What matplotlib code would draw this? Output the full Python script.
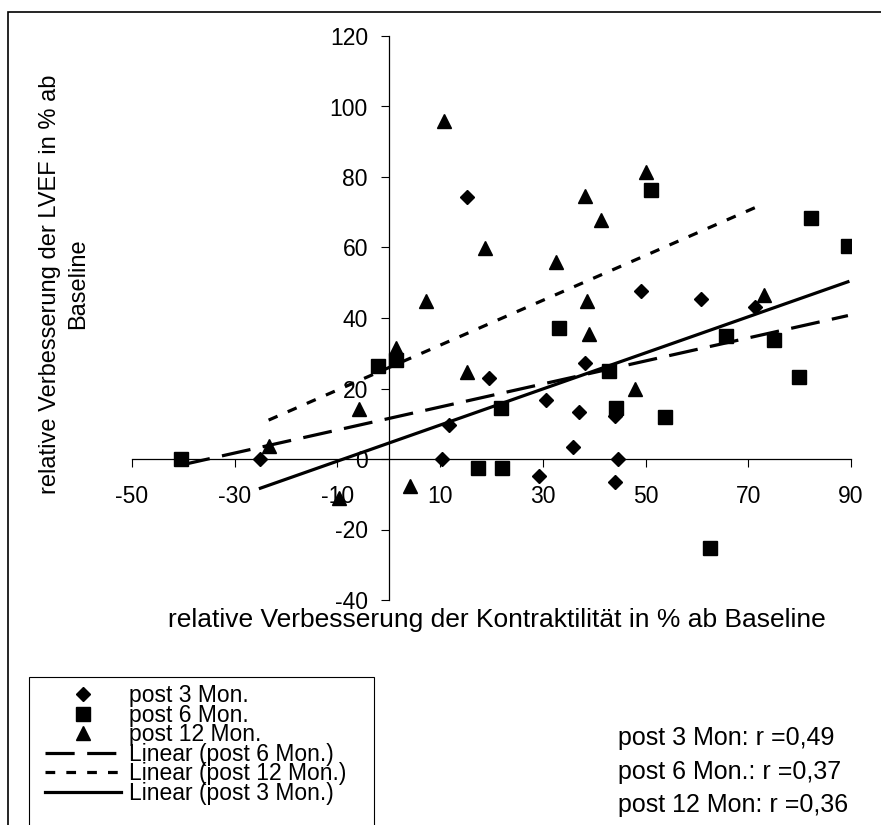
import numpy as np
import matplotlib
matplotlib.use("Agg")
import matplotlib.pyplot as plt
from matplotlib.patches import Rectangle

plt.rcParams['font.family'] = ['Liberation Sans', 'DejaVu Sans']
plt.rcParams['lines.scale_dashes'] = False
plt.rcParams['axes.unicode_minus'] = False

# ---- data ----
x_3mon = [-25.0, 10.4, 11.7, 19.6, 15.3, 49.1, 60.7, 71.4, 38.2, 30.6, 37.0, 44.0, 35.8, 44.6, 29.3, 44.1, 89.4, 82.3]
y_3mon = [0.0, 0.0, 9.7, 23.0, 74.3, 47.8, 45.5, 43.1, 27.2, 16.6, 13.2, 12.3, 3.4, 0.0, -4.7, -6.4, 60.3, 68.4]

x_6mon = [-40.4, -2.1, 1.5, 21.8, 17.3, 22.1, 42.8, 44.3, 53.8, 79.8, 62.5, 33.1, 65.7, 75.1, 51.1, 82.3, 89.4]
y_6mon = [0.0, 26.3, 28.0, 14.5, -2.6, -2.6, 25.0, 14.6, 11.8, 23.3, -25.2, 37.2, 34.8, 33.8, 76.4, 68.4, 60.3]

x_12mon = [10.8, 18.8, 7.3, 1.4, 50.0, 38.2, 41.4, 32.6, 38.6, 39.0, 73.0, 15.3, -5.8, -23.4, -9.7, 4.2, 48.0]
y_12mon = [96.0, 59.9, 44.7, 31.5, 81.3, 74.5, 67.9, 55.8, 44.9, 35.5, 46.6, 24.6, 14.2, 3.8, -11.1, -7.6, 19.9]

x_ticks = [-50, -30, -10, 10, 30, 50, 70, 90]
y_ticks = [-40, -20, 0, 20, 40, 60, 80, 100, 120]

series_labels = ["post 3 Mon.", "post 6 Mon.", "post 12 Mon."]
trend_labels = ["Linear (post 6 Mon.)", "Linear (post 12 Mon.)", "Linear (post 3 Mon.)"]
r_texts = ["post 3 Mon: r =0,49", "post 6 Mon.: r =0,37", "post 12 Mon: r =0,36"]

xlabel = "relative Verbesserung der Kontraktilität in % ab Baseline"
ylabel = "relative Verbesserung der LVEF in % ab\nBaseline"

# ---- figure ----
W, H = 881, 825
fig = plt.figure(figsize=(W / 100, H / 100), dpi=100)
ax = fig.add_axes([132 / W, 1 - 600 / H, (851 - 132) / W, (600 - 36) / H])
ax.set_xlim(-50, 90)
ax.set_ylim(-40, 120)

ax.spines['left'].set_position(('data', 0))
ax.spines['bottom'].set_position(('data', 0))
ax.spines['top'].set_visible(False)
ax.spines['right'].set_visible(False)
for s in ('left', 'bottom'):
    ax.spines[s].set_linewidth(0.9)
    ax.spines[s].set_color('black')

ax.set_xticks(x_ticks)
ax.set_yticks(y_ticks)
ax.tick_params(axis='both', direction='out', length=6, width=0.8, colors='black', labelsize=16.5)
ax.tick_params(axis='x', pad=13)
ax.tick_params(axis='y', pad=9)

k = 'black'
h3, = ax.plot(x_3mon, y_3mon, linestyle='none', marker='D', ms=6.8, color=k, zorder=3)
h6, = ax.plot(x_6mon, y_6mon, linestyle='none', marker='s', ms=9.5, color=k, zorder=3)
h12, = ax.plot(x_12mon, y_12mon, linestyle='none', marker='^', ms=10.0, color=k, zorder=3)

def trend(xs, ys):
    xs = np.asarray(xs); ys = np.asarray(ys)
    b, a = np.polyfit(xs, ys, 1)
    xx = np.array([xs.min(), xs.max()])
    return xx, a + b * xx

lw = 2.3
xx, yy = trend(x_6mon, y_6mon)
t6, = ax.plot(xx, yy, color=k, lw=lw, dashes=(21, 9), zorder=4)
xx, yy = trend(x_12mon, y_12mon)
t12, = ax.plot(xx, yy, color=k, lw=lw, dashes=(7, 8), zorder=4)
xx, yy = trend(x_3mon, y_3mon)
t3, = ax.plot(xx, yy, color=k, lw=lw, zorder=4)

# axis labels
fig.text(497 / W, 1 - 620 / H, xlabel, ha='center', va='center', fontsize=19)
fig.text(64 / W, 1 - 284 / H, ylabel, ha='center', va='center', rotation=90,
         multialignment='center', fontsize=17, linespacing=1.35)

# legend
leg = fig.legend([h3, h6, h12, t6, t12, t3], series_labels + trend_labels,
                 loc='upper left', bbox_to_anchor=(45 / W, 1 - 684 / H),
                 frameon=False, fontsize=16.5, handlelength=3.3, handletextpad=0.35,
                 labelspacing=-0.15, borderpad=0, borderaxespad=0, numpoints=1)
fig.add_artist(Rectangle((29 / W, -0.1), (374 - 29) / W, 0.1 + 1 - 677 / H,
                         transform=fig.transFigure, fill=False, edgecolor='black', lw=0.8))

# r values
for i, t in enumerate(r_texts):
    fig.text(618 / W, 1 - (738 + 33.5 * i) / H, t, ha='left', va='center', fontsize=18)

# outer frame
fig.add_artist(Rectangle((8 / W, -0.1), 1.2, 0.1 + 1 - 12 / H,
                         transform=fig.transFigure, fill=False, edgecolor='black', lw=1.2))

fig.savefig("out.png", dpi=100)
